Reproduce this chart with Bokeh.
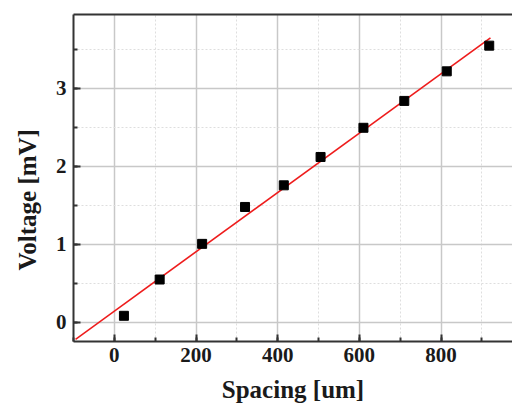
import numpy as np
from bokeh.plotting import figure
from bokeh.models import SingleIntervalTicker, FixedTicker, LinearAxis, Range1d, Title
from bokeh.embed import file_html
from bokeh.resources import INLINE

# data
spacing_um = [23.5, 111, 215, 320, 415, 505, 610, 710, 814, 918]
voltage_mV = [0.08, 0.546, 1.004, 1.478, 1.756, 2.12, 2.495, 2.84, 3.22, 3.55]
fit_span = [-95, 921]

x_ticks_step = 200
y_ticks_step = 1

slope, intercept = np.polyfit(spacing_um, voltage_mV, 1)
fit_x = np.array(fit_span, dtype=float)
fit_y = slope * fit_x + intercept

FONT = "'Liberation Serif', 'Times New Roman', serif"
AX = "#333333"
TXT = "#1a1a1a"

p = figure(width=512, height=410, output_backend="svg", toolbar_location=None,
           x_range=Range1d(-100, 975), y_range=Range1d(-0.25, 3.95),
           min_border_left=73, min_border_right=0, min_border_top=14, min_border_bottom=69)
p.outline_line_color = None
p.background_fill_color = "white"

p.xaxis.ticker = SingleIntervalTicker(interval=x_ticks_step, num_minor_ticks=2)
p.yaxis.ticker = SingleIntervalTicker(interval=y_ticks_step, num_minor_ticks=2)

for ax in (p.xaxis[0], p.yaxis[0]):
    ax.axis_line_color = AX
    ax.axis_line_width = 2
    ax.major_tick_in = 7
    ax.major_tick_out = 0
    ax.minor_tick_in = 4
    ax.minor_tick_out = 0
    ax.major_tick_line_color = AX
    ax.major_tick_line_width = 2
    ax.minor_tick_line_color = AX
    ax.minor_tick_line_width = 2
    ax.major_label_text_font = FONT
    ax.major_label_text_font_style = "bold"
    ax.major_label_text_font_size = "21px"
    ax.major_label_text_color = TXT
    ax.axis_label_text_font = FONT
    ax.axis_label_text_font_style = "bold"
    ax.axis_label_text_font_size = "25px"
    ax.axis_label_text_color = TXT

p.xaxis.axis_label = "Spacing [um]"
p.xaxis.major_label_standoff = 6
p.yaxis.major_label_standoff = 7
p.xaxis.axis_label_standoff = 11

ylab = Title(text="Voltage [mV]", align="left", vertical_align="bottom",
             offset=71, standoff=23,
             text_font=FONT, text_font_style="bold", text_font_size="25px",
             text_color=TXT)
p.add_layout(ylab, "left")

top = LinearAxis(ticker=FixedTicker(ticks=[]), axis_line_color=AX, axis_line_width=2,
                 major_tick_line_color=None, minor_tick_line_color=None,
                 major_label_standoff=0)
p.add_layout(top, "above")

for g in (p.xgrid[0], p.ygrid[0]):
    g.grid_line_color = "#c8c8c8"
    g.grid_line_width = 1.5
    g.minor_grid_line_color = "#dedede"
    g.minor_grid_line_dash = "2 2"
    g.minor_grid_line_width = 1

p.line(fit_x, fit_y, line_color="#ee1c1c", line_width=1.6)
p.scatter(spacing_um, voltage_mV, marker="square", size=9, fill_color="black", line_color="black")

open("out.html", "w").write(file_html(p, INLINE))
